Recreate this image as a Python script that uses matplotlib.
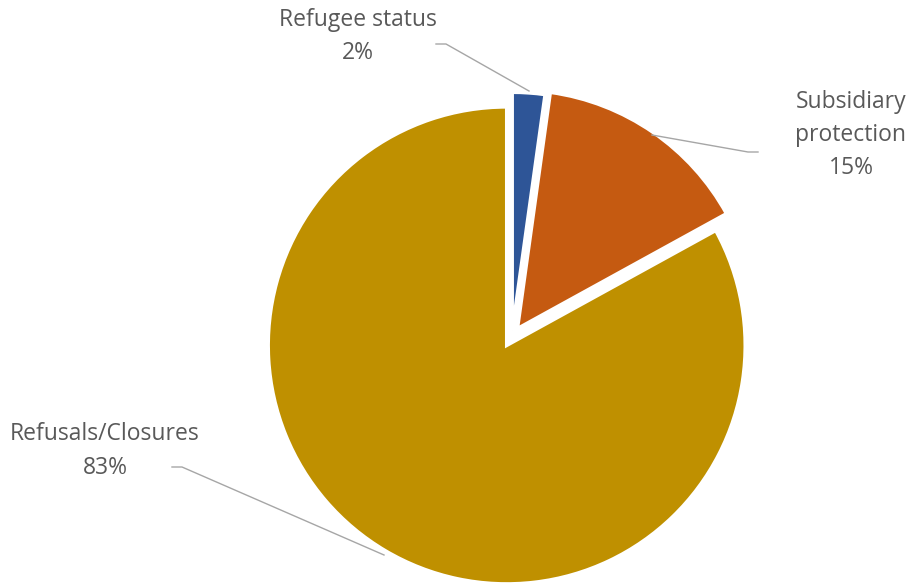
import matplotlib
matplotlib.use("Agg")
import matplotlib.pyplot as plt

categories = ["Refugee status", "Subsidiary protection", "Refusals/Closures"]
values = [2.2, 14.8, 83.0]
colors = ["#2E5597", "#C55A11", "#BF9000"]
label_texts = ["Refugee status", "Subsidiary\nprotection", "Refusals/Closures"]

W, H = 912, 587
fig = plt.figure(figsize=(W / 100, H / 100), dpi=100)
ax = fig.add_axes([0, 0, 1, 1])

R = 238.5
cx, cy = 511.8, H - 336.8
ax.pie(values, colors=colors, startangle=90, counterclock=False,
       radius=R, center=(cx, cy), explode=[6, 10, 10],
       wedgeprops=dict(edgecolor="white", linewidth=2.5), frame=True)
ax.set_xlim(0, W)
ax.set_ylim(0, H)
ax.set_aspect("equal")
ax.axis("off")

total = sum(values)
pcts = [f"{round(v / total * 100)}%" for v in values]

txt_color = "#595959"
fs = 16.5
font = "Open Sans"
# label positions (pixel coords, top-origin)
pos = [(358, 36), (851, 135), (105, 451)]
for t, p, (x, y) in zip(label_texts, pcts, pos):
    ax.text(x, H - y, t + "\n" + p, ha="center", va="center", fontsize=fs,
            color=txt_color, family=font, linespacing=1.5)

line_color = "#A6A6A6"
leaders = [
    [(436, 44), (446, 44), (529, 91)],
    [(758, 152), (748, 152), (652, 135)],
    [(172, 467), (182, 467), (384, 555)],
]
for pts in leaders:
    xs = [p[0] for p in pts]
    ys = [H - p[1] for p in pts]
    ax.plot(xs, ys, color=line_color, lw=1.0)

fig.savefig("out.png", dpi=100)
